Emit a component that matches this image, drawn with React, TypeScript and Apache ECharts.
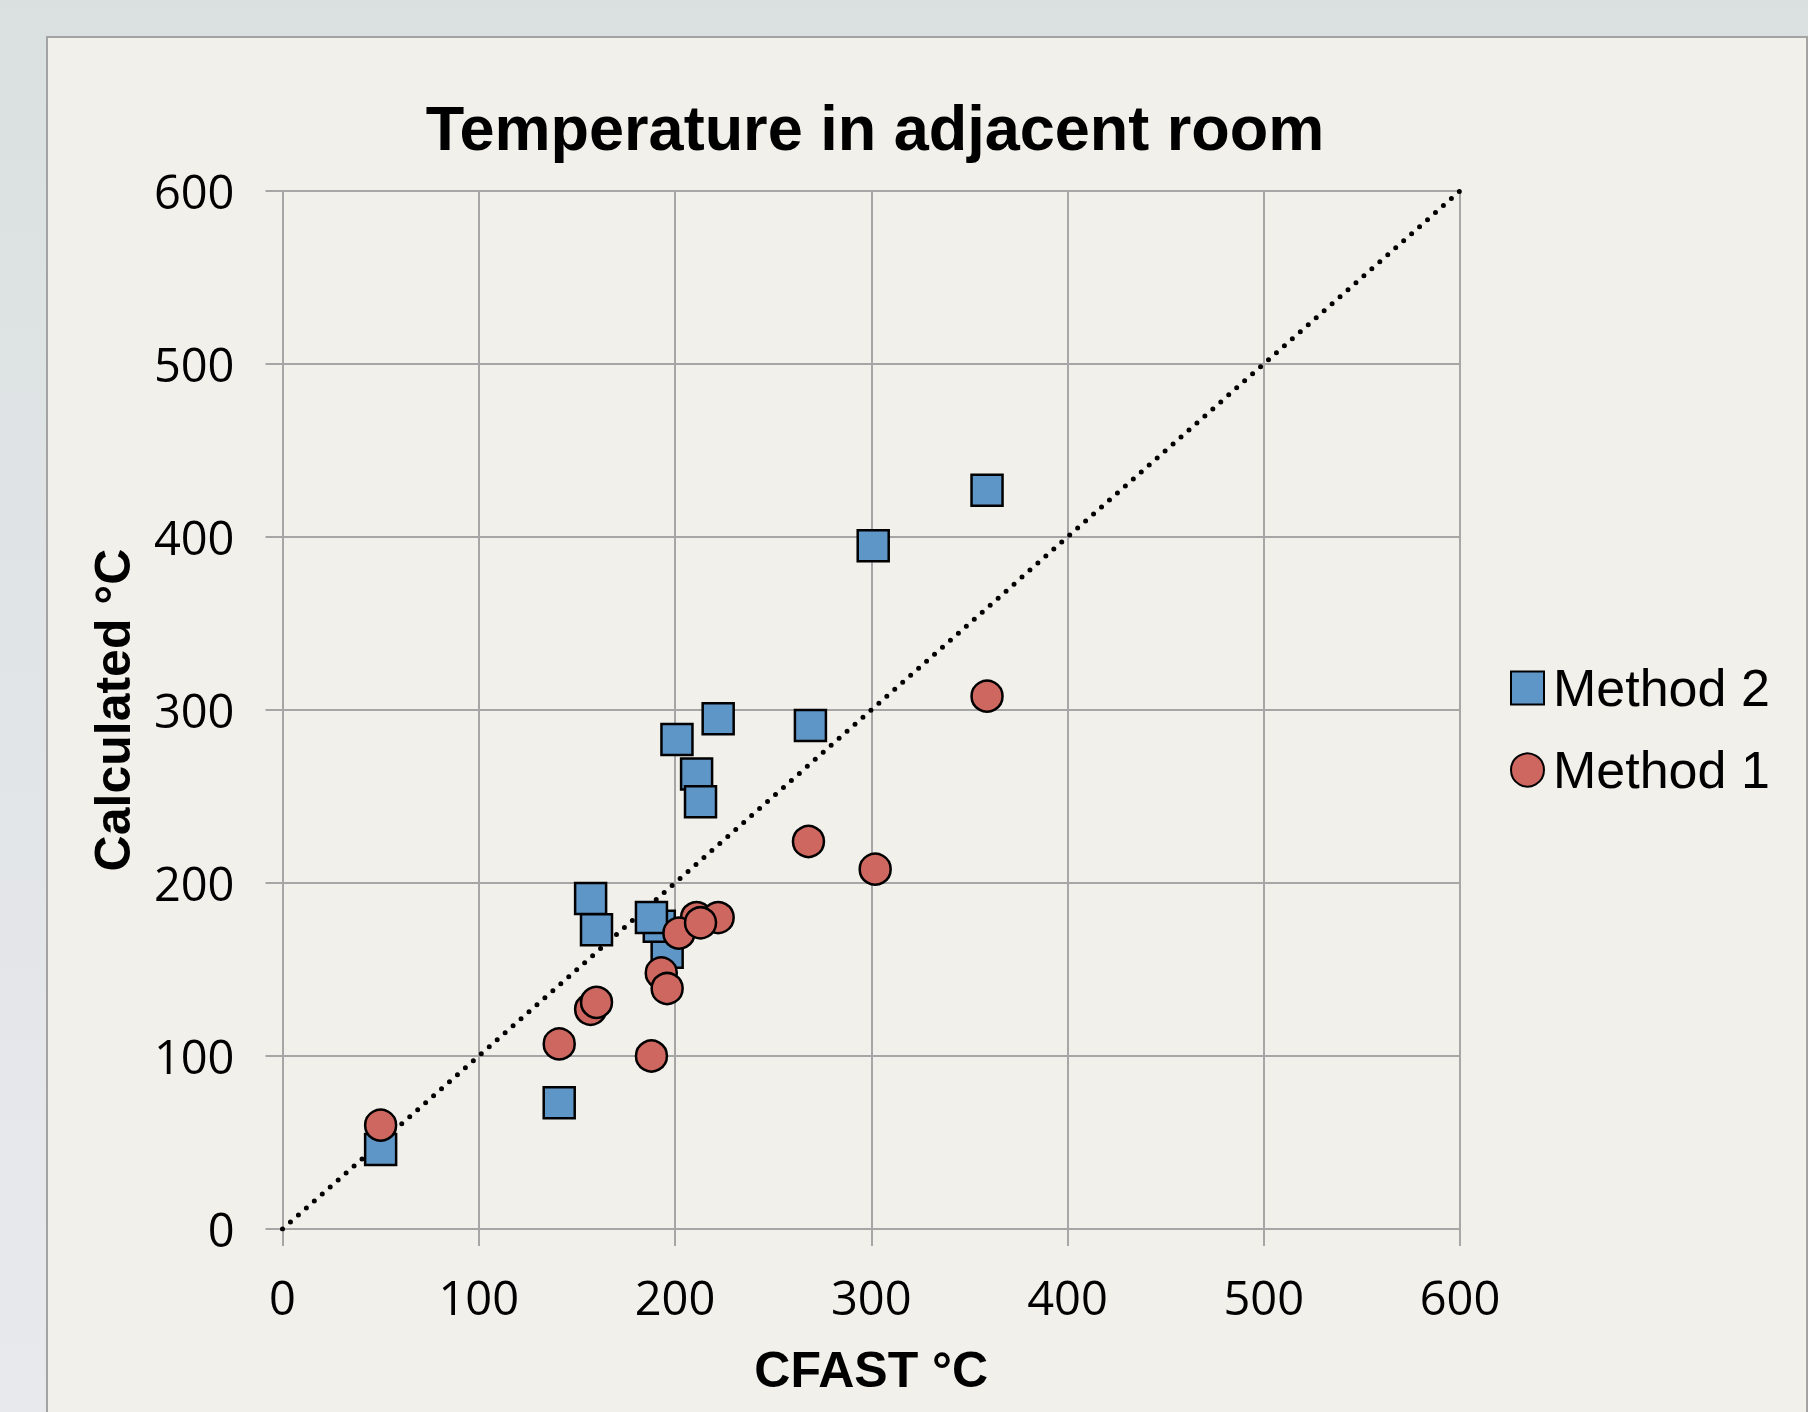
import React, { useEffect, useRef } from 'react';
import * as echarts from 'echarts';

const W = 1808;
const H = 1412;

const titleText = 'Temperature in adjacent room';
const xAxisName = 'CFAST °C';
const yAxisName = 'Calculated °C';
const axisMin = 0;
const axisMax = 600;
const axisStep = 100;

const method2Name = 'Method 2';
const method2X = [50, 141, 157, 160, 196, 192, 188, 201, 211, 213, 222, 269, 301, 359];
const method2Y = [46, 73, 191, 173, 160, 175, 180, 283, 263, 247, 295, 291, 395, 427];

const method1Name = 'Method 1';
const method1X = [50, 141, 157, 160, 188, 193, 196, 211, 222, 202, 213, 268, 302, 359];
const method1Y = [60, 107, 127, 131, 100, 148, 139, 180, 180, 171, 177, 224, 208, 308];

const refLineX = [0, 600];
const refLineY = [0, 600];

const GRID_COLOR = '#A6A6A6';
const BLUE = '#5F96C8';
const RED = '#CD675F';

function zip(xs: number[], ys: number[]) {
  return xs.map((x, i) => [x, ys[i]]);
}

export default function App() {
  const ref = useRef<HTMLDivElement>(null);

  useEffect(() => {
    if (!ref.current) return;
    const chart = echarts.init(ref.current, null, { renderer: 'svg', width: W, height: H });

    const gridLeft = 282.5;
    const gridTop = 191;
    const gridWidth = 1177.5;
    const gridHeight = 1038;

    const axisCommon = {
      type: 'value' as const,
      min: axisMin,
      max: axisMax,
      interval: axisStep,
      nameLocation: 'middle' as const,
      axisLine: { show: true, onZero: false, lineStyle: { color: GRID_COLOR, width: 2 } },
      axisTick: { show: true, length: 17, lineStyle: { color: GRID_COLOR, width: 2 } },
      splitLine: { show: true, lineStyle: { color: GRID_COLOR, width: 2 } },
      axisLabel: {
        showMinLabel: true,
        showMaxLabel: true,
        fontFamily: 'Open Sans',
        fontSize: 47,
        color: '#000',
      },
      nameTextStyle: {
        fontFamily: 'Liberation Sans',
        fontWeight: 'bold' as const,
        fontSize: 50,
        color: '#000',
        verticalAlign: 'middle' as const,
      },
    };

    const option: any = {
      animation: false,
      backgroundColor: 'transparent',
      graphic: [
        {
          type: 'rect',
          z: -100,
          silent: true,
          shape: { x: 0, y: 0, width: W, height: H },
          style: {
            fill: new echarts.graphic.LinearGradient(0, 0, 0, 1, [
              { offset: 0, color: '#DAE0E0' },
              { offset: 1, color: '#E8E9ED' },
            ]),
          },
        },
        {
          type: 'rect',
          z: -99,
          silent: true,
          shape: { x: 47, y: 37, width: 1760, height: 1420 },
          style: { fill: '#F2F0EA', stroke: '#A3A3A3', lineWidth: 2 },
        },
        {
          type: 'text',
          z: 100,
          x: 875,
          y: 128,
          style: {
            text: titleText,
            font: 'bold 63px "Liberation Sans", Arial, sans-serif',
            fill: '#000',
            align: 'center',
            verticalAlign: 'middle',
          },
        },
      ],
      grid: {
        left: gridLeft,
        top: gridTop,
        width: gridWidth,
        height: gridHeight,
        containLabel: false,
        outerBoundsMode: 'none',
      },
      legend: {
        data: [method2Name, method1Name],
        orient: 'vertical',
        left: 1510,
        top: 662,
        padding: 0,
        itemWidth: 33,
        itemHeight: 33,
        itemGap: 30,
        textStyle: {
          fontFamily: 'Liberation Sans',
          fontSize: 52,
          color: '#000',
          lineHeight: 52,
          padding: [0, 0, 0, 4],
        },
      },
      xAxis: {
        ...axisCommon,
        name: xAxisName,
        nameGap: 141,
        axisLabel: { ...axisCommon.axisLabel, margin: 44 },
      },
      yAxis: {
        ...axisCommon,
        name: yAxisName,
        nameGap: 170,
        axisLabel: { ...axisCommon.axisLabel, margin: 48 },
      },
      series: [
        {
          type: 'line',
          data: zip(refLineX, refLineY),
          symbol: 'none',
          showSymbol: false,
          silent: true,
          lineStyle: { color: '#000', width: 5, type: [0, 10.6], cap: 'round' },
          z: 2,
        },
        {
          name: method2Name,
          type: 'scatter',
          symbol: 'rect',
          symbolSize: 31,
          data: zip(method2X, method2Y),
          itemStyle: { color: BLUE, borderColor: '#000', borderWidth: 2.5, opacity: 1 },
          z: 3,
        },
        {
          name: method1Name,
          type: 'scatter',
          symbol: 'circle',
          symbolSize: 31,
          data: zip(method1X, method1Y),
          itemStyle: { color: RED, borderColor: '#000', borderWidth: 2.5, opacity: 1 },
          z: 4,
        },
      ],
    };

    chart.setOption(option);
    return () => chart.dispose();
  }, []);

  return (
    <div
      ref={ref}
      style={{ position: 'fixed', left: 0, top: 0, width: W, height: H }}
    />
  );
}
